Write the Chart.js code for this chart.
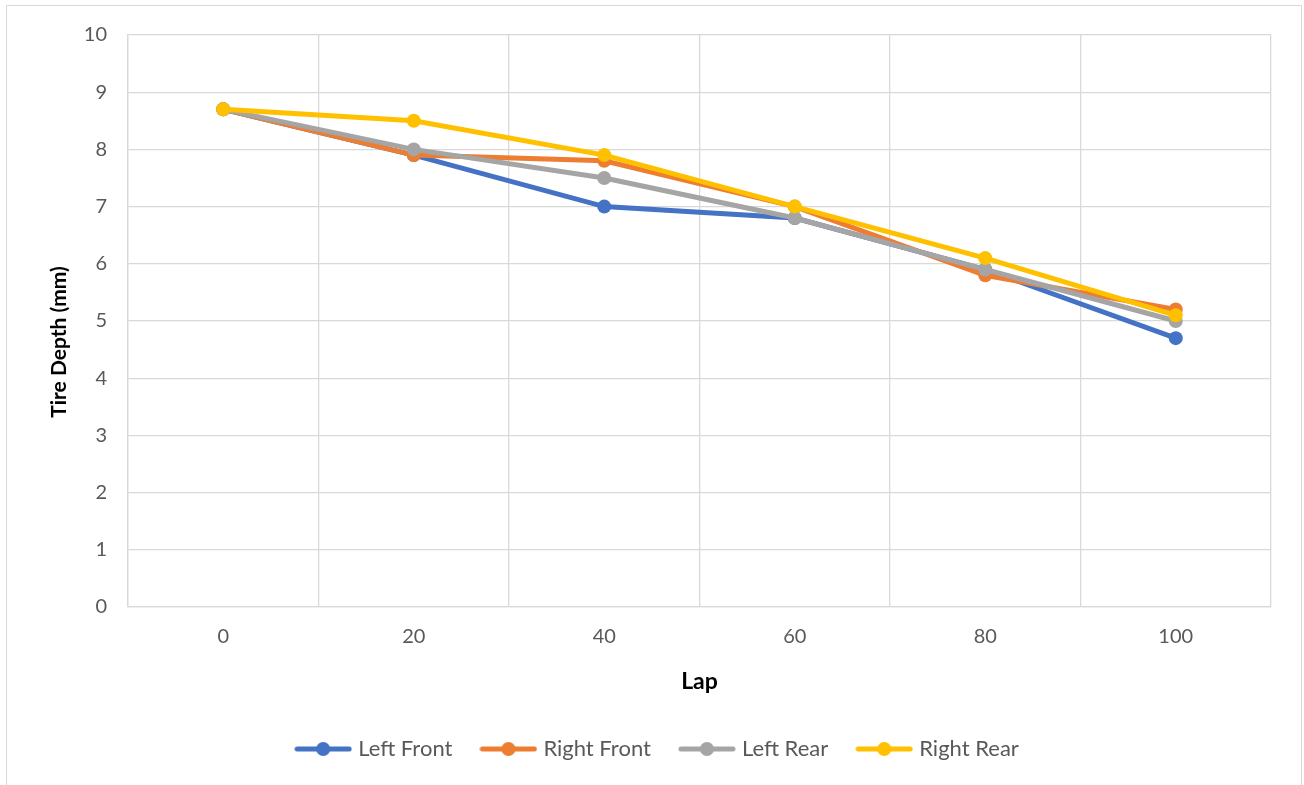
<!DOCTYPE html>
<html>
<head>
<meta charset="utf-8">
<script src="https://cdn.jsdelivr.net/npm/chart.js@4/dist/chart.umd.min.js"></script>
<style>
  body { margin:0; background:#fff; }
  #wrap { position:absolute; left:6px; top:5px; width:1294px; height:800px; border:1px solid #d9d9d9; }
  #c { position:absolute; left:0; top:-4px; display:block; }
</style>
</head>
<body>
<div id="wrap"><canvas id="c" width="1294" height="783"></canvas></div>
<script>
// lap numbers along the bottom
var laps = ['0','20','40','60','80','100']
var yTicks = [0,1,2,3,4,5,6,7,8,9,10]

var leftFront  = [8.7, 7.9, 7.0, 6.8, 5.9, 4.7]
var rightFront = [8.7, 7.9, 7.8, 7.0, 5.8, 5.2]
var leftRear   = [8.7, 8.0, 7.5, 6.8, 5.9, 5.0]
var rightRear  = [8.7, 8.5, 7.9, 7.0, 6.1, 5.1]

var names  = ['Left Front','Right Front','Left Rear','Right Rear']
var colors = ['#4472C4','#ED7D31','#A5A5A5','#FFC000']
var values = [leftFront, rightFront, leftRear, rightRear]

var FONT = 'Lato, "Liberation Sans", sans-serif'
var GRID = '#d9d9d9'

// legend marker: a short line with a dot in the middle, like excel
function marker(col){
  var cv = document.createElement('canvas')
  cv.width = 58; cv.height = 16
  var g = cv.getContext('2d')
  g.strokeStyle = col; g.lineWidth = 5; g.lineCap = 'round'
  g.beginPath(); g.moveTo(3,8); g.lineTo(55,8); g.stroke()
  g.fillStyle = col
  g.beginPath(); g.arc(29,8,7,0,Math.PI*2); g.fill()
  return cv
}

var datasets = []
for (var i = 0; i < names.length; i++) {
  datasets.push({
    label: names[i],
    data: values[i],
    borderColor: colors[i],
    backgroundColor: colors[i],
    borderWidth: 5,
    pointRadius: 7,
    pointHoverRadius: 7,
    pointBorderWidth: 0,
    tension: 0,
    order: names.length - i   // last series on top
  })
}

new Chart(document.getElementById('c'), {
  type: 'line',
  data: { labels: laps, datasets: datasets },
  options: {
    responsive: false,
    animation: false,
    events: [],
    layout: { padding: { left: 40, right: 30, top: 24, bottom: 15 } },
    plugins: {
      tooltip: { enabled: false },
      legend: {
        position: 'bottom',
        labels: {
          usePointStyle: true,
          pointStyleWidth: 48,
          padding: 32,
          color: '#595959',
          font: { family: FONT, size: 22 },
          generateLabels: function(chart){
            return chart.data.datasets.map(function(ds, idx){
              return {
                text: ds.label,
                fillStyle: ds.borderColor,
                strokeStyle: ds.borderColor,
                lineWidth: 0,
                pointStyle: marker(ds.borderColor),
                fontColor: '#595959',
                hidden: false,
                datasetIndex: idx
              }
            })
          }
        }
      }
    },
    scales: {
      x: {
        type: 'category',
        offset: true,
        grid: { offset: true, color: GRID, lineWidth: 1.3, drawTicks: false },
        border: { color: GRID, width: 1.3 },
        ticks: { color: '#595959', padding: 18, font: { family: FONT, size: 20 } },
        title: { display: true, text: 'Lap', color: '#000', font: { family: FONT, size: 23, weight: 'bold' }, padding: { top: 0, bottom: 11 } },
        afterFit: function(s){ s.height = 99 }
      },
      y: {
        min: 0, max: 10,
        afterBuildTicks: function(s){ s.ticks = yTicks.map(function(v){ return {value:v} }) },
        grid: { color: GRID, lineWidth: 1.3, drawTicks: false },
        border: { color: GRID, width: 1.3 },
        ticks: { color: '#595959', padding: 21, font: { family: FONT, size: 20 } },
        title: { display: true, text: 'Tire Depth (mm)\u2003\u2003\u2002', color: '#000', font: { family: FONT, size: 21, weight: 'bold' }, padding: { top: 0, bottom: 0 } },
        afterFit: function(s){ s.width = 81 }
      }
    }
  }
})
</script>
</body>
</html>
